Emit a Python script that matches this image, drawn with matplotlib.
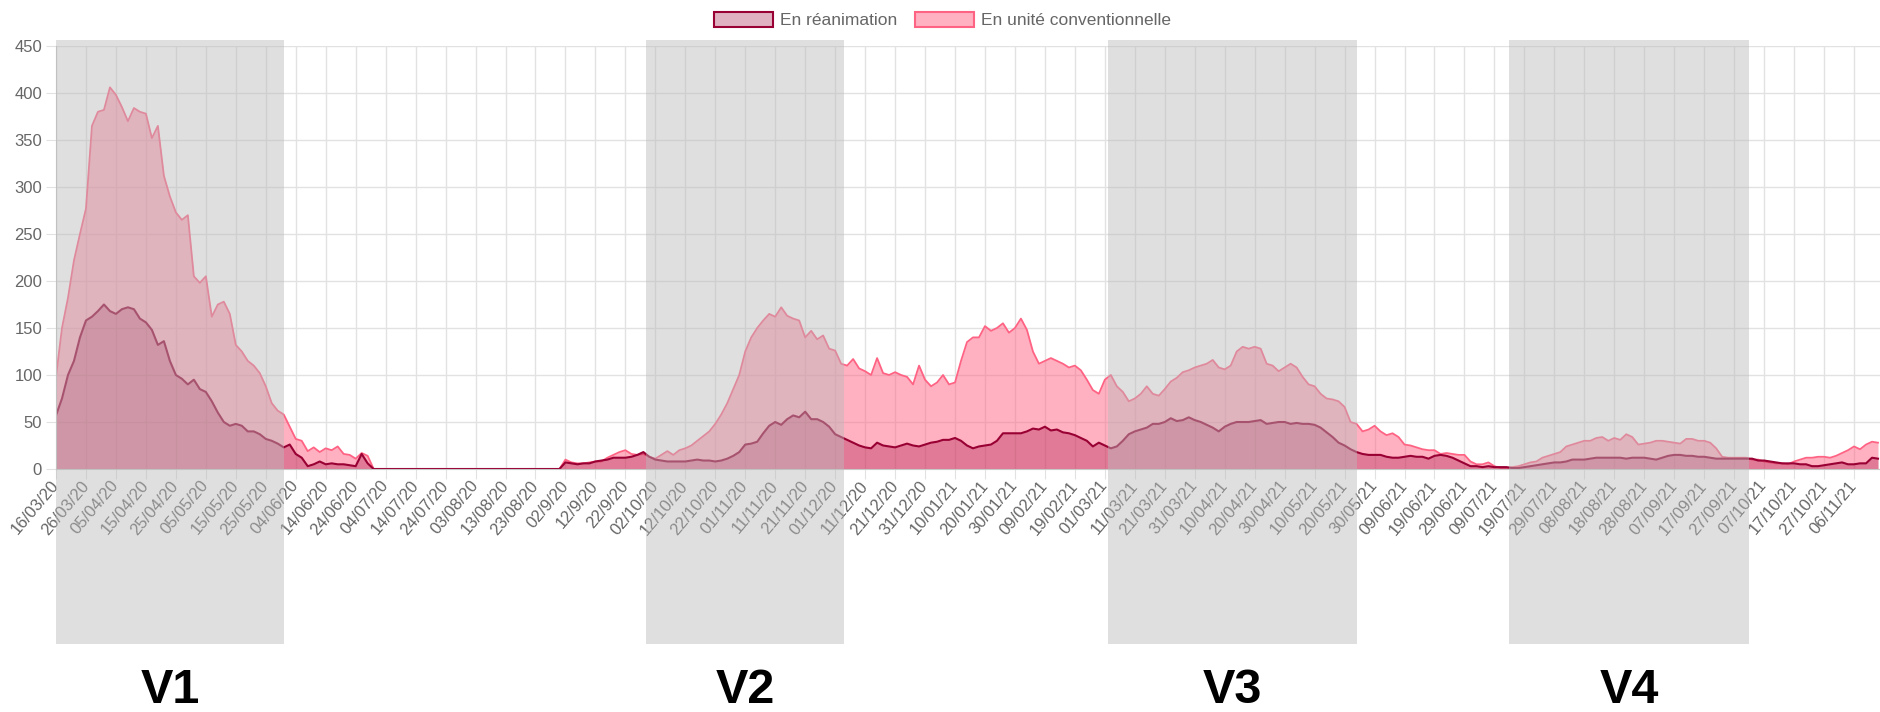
import matplotlib
matplotlib.use("Agg")
import matplotlib.pyplot as plt
import matplotlib.transforms as mtransforms
from matplotlib.patches import Patch, Rectangle
import pandas as pd

plt.rcParams['font.family'] = ['Liberation Sans', 'DejaVu Sans']

# values every 2 days starting 16/03/2020
start = "2020-03-16"
conv = [
    98, 150, 182, 222, 250, 277, 365, 380, 382, 406,   # day 0
    398, 385, 370, 384, 380, 378, 352, 365, 312, 290,  # day 20
    273, 265, 270, 205, 198, 205, 162, 175, 178, 165,  # day 40
    132, 125, 115, 110, 102, 88, 70, 62, 58, 45,       # day 60
    32, 30, 19, 23, 18, 22, 20, 24, 16, 15,            # day 80
    11, 17, 14, 0, 0, 0, 0, 0, 0, 0,                   # day 100
    0, 0, 0, 0, 0, 0, 0, 0, 0, 0,                      # day 120
    0, 0, 0, 0, 0, 0, 0, 0, 0, 0,                      # day 140
    0, 0, 0, 0, 0, 10, 7, 6, 6, 7,                     # day 160
    8, 8, 12, 15, 18, 20, 16, 15, 16, 13,              # day 180
    11, 15, 19, 15, 20, 22, 25, 30, 35, 40,            # day 200
    48, 58, 70, 85, 100, 125, 140, 150, 158, 165,      # day 220
    162, 172, 163, 160, 158, 140, 147, 138, 142, 128,  # day 240
    126, 112, 110, 117, 107, 104, 100, 118, 102, 100,  # day 260
    103, 100, 98, 90, 110, 95, 88, 92, 100, 90,        # day 280
    92, 115, 135, 140, 140, 152, 147, 150, 155, 145,   # day 300
    150, 160, 148, 125, 112, 115, 118, 115, 112, 108,  # day 320
    110, 105, 95, 84, 80, 95, 100, 88, 82, 72,         # day 340
    75, 80, 88, 80, 78, 85, 93, 97, 103, 105,          # day 360
    108, 110, 112, 116, 108, 106, 110, 125, 130, 128,  # day 380
    130, 128, 112, 110, 104, 108, 112, 108, 98, 90,    # day 400
    88, 80, 75, 74, 72, 66, 50, 48, 40, 42,            # day 420
    46, 40, 36, 38, 34, 26, 25, 23, 21, 20,            # day 440
    20, 16, 17, 16, 15, 15, 8, 5, 5, 7,                # day 460
    3, 1, 1, 2, 3, 5, 7, 8, 12, 14,                    # day 480
    16, 18, 24, 26, 28, 30, 30, 33, 34, 30,            # day 500
    33, 31, 37, 34, 26, 27, 28, 30, 30, 29,            # day 520
    28, 27, 32, 32, 30, 30, 28, 22, 13, 12,            # day 540
    12, 12, 12, 10, 10, 8, 7, 6, 6, 5,                 # day 560
    8, 10, 12, 12, 13, 13, 12, 14, 17, 20,             # day 580
    24, 21, 26, 29, 28,                                # day 600
]
rea = [
    57, 75, 100, 115, 140, 158, 162, 168, 175, 168,    # day 0
    165, 170, 172, 170, 160, 156, 148, 132, 136, 115,  # day 20
    100, 96, 90, 95, 85, 82, 72, 60, 50, 46,           # day 40
    48, 46, 40, 40, 37, 32, 30, 27, 23, 26,            # day 60
    16, 12, 3, 5, 8, 5, 6, 5, 5, 4,                    # day 80
    3, 16, 6, 0, 0, 0, 0, 0, 0, 0,                     # day 100
    0, 0, 0, 0, 0, 0, 0, 0, 0, 0,                      # day 120
    0, 0, 0, 0, 0, 0, 0, 0, 0, 0,                      # day 140
    0, 0, 0, 0, 0, 7, 6, 5, 6, 6,                      # day 160
    8, 9, 10, 12, 12, 12, 13, 15, 18, 13,              # day 180
    10, 9, 8, 8, 8, 8, 9, 10, 9, 9,                    # day 200
    8, 9, 11, 14, 18, 26, 27, 29, 38, 46,              # day 220
    50, 47, 53, 57, 55, 61, 53, 53, 50, 45,            # day 240
    37, 34, 31, 28, 25, 23, 22, 28, 25, 24,            # day 260
    23, 25, 27, 25, 24, 26, 28, 29, 31, 31,            # day 280
    33, 30, 25, 22, 24, 25, 26, 30, 38, 38,            # day 300
    38, 38, 40, 43, 42, 45, 41, 42, 39, 38,            # day 320
    36, 33, 30, 24, 28, 25, 22, 24, 30, 37,            # day 340
    40, 42, 44, 48, 48, 50, 54, 51, 52, 55,            # day 360
    52, 50, 47, 44, 40, 45, 48, 50, 50, 50,            # day 380
    51, 52, 48, 49, 50, 50, 48, 49, 48, 48,            # day 400
    47, 44, 39, 34, 28, 25, 21, 18, 16, 15,            # day 420
    15, 15, 13, 12, 12, 13, 14, 13, 13, 11,            # day 440
    14, 15, 14, 12, 9, 6, 3, 3, 2, 3,                  # day 460
    2, 2, 2, 1, 1, 2, 3, 4, 5, 6,                      # day 480
    7, 7, 8, 10, 10, 10, 11, 12, 12, 12,               # day 500
    12, 12, 11, 12, 12, 12, 11, 10, 12, 14,            # day 520
    15, 15, 14, 14, 13, 13, 12, 11, 11, 11,            # day 540
    11, 11, 11, 11, 9, 9, 8, 7, 6, 6,                  # day 560
    6, 5, 5, 3, 3, 4, 5, 6, 7, 5,                      # day 580
    5, 6, 6, 12, 11,                                   # day 600
]

tick_labels = [
    "16/03/20", "26/03/20", "05/04/20", "15/04/20", "25/04/20", "05/05/20",
    "15/05/20", "25/05/20", "04/06/20", "14/06/20", "24/06/20", "04/07/20",
    "14/07/20", "24/07/20", "03/08/20", "13/08/20", "23/08/20", "02/9/20",
    "12/9/20", "22/9/20", "02/10/20", "12/10/20", "22/10/20", "01/11/20",
    "11/11/20", "21/11/20", "01/12/20", "11/12/20", "21/12/20", "31/12/20",
    "10/01/21", "20/01/21", "30/01/21", "09/02/21", "19/02/21", "01/03/21",
    "11/03/21", "21/03/21", "31/03/21", "10/04/21", "20/04/21", "30/04/21",
    "10/05/21", "20/05/21", "30/05/21", "09/06/21", "19/06/21", "29/06/21",
    "09/07/21", "19/07/21", "29/07/21", "08/08/21", "18/08/21", "28/08/21",
    "07/09/21", "17/09/21", "27/09/21", "07/10/21", "17/10/21", "27/10/21",
    "06/11/21",
]

waves = ["V1", "V2", "V3", "V4"]
wave_start = ["2020-03-16", "2020-09-29", "2021-03-02", "2021-07-14"]
wave_end = ["2020-05-31", "2020-12-04", "2021-05-24", "2021-10-02"]

dates = pd.date_range(start, periods=len(conv), freq="2D")
tick_pos = pd.to_datetime(tick_labels, format="%d/%m/%y")

rea_line = (153/255, 0, 51/255)
rea_fill = (153/255, 0, 51/255, 0.3)
conv_line = (1, 99/255, 132/255)
conv_fill = (1, 99/255, 132/255, 0.5)
grid_c = "#e2e2e2"

fig = plt.figure(figsize=(18.81, 7.12), dpi=100)
ax = fig.add_axes([56/1881, 243/712, 1 - 56/1881, 423/712])

ax.fill_between(dates, 0, conv, color=conv_fill, lw=0, zorder=2)
ax.plot(dates, conv, color=conv_line, lw=1.3, zorder=2.1)
ax.fill_between(dates, 0, rea, color=rea_fill, lw=0, zorder=2.2)
ax.plot(dates, rea, color=rea_line, lw=1.5, zorder=2.3)

ax.set_xlim(pd.Timestamp(start), pd.Timestamp("2021-11-15"))
ax.set_ylim(0, 450)
ax.set_yticks(range(0, 451, 50))
ax.set_xticks(tick_pos)
ax.set_xticklabels(tick_labels)
ax.grid(True, color=grid_c, lw=1, alpha=1)
ax.tick_params(length=7, color=grid_c, labelcolor="#666666", labelsize=12, pad=3)
plt.setp(ax.get_xticklabels(), rotation=50, ha="right", va="center",
         rotation_mode="anchor")
for s in ["top", "right"]:
    ax.spines[s].set_visible(False)
for s in ["left", "bottom"]:
    ax.spines[s].set_color("#c8c8c8")

trans = mtransforms.blended_transform_factory(ax.transData, fig.transFigure)
for name, s, e in zip(waves, wave_start, wave_end):
    x0 = matplotlib.dates.date2num(pd.Timestamp(s))
    x1 = matplotlib.dates.date2num(pd.Timestamp(e))
    ax.add_patch(Rectangle((x0, 0.0955), x1 - x0, 0.944 - 0.0955, transform=trans,
                           facecolor=(186/255, 186/255, 186/255, 0.45), lw=0,
                           zorder=5, clip_on=False))
    ax.text((x0 + x1) / 2, 0.012, name, transform=trans, ha="center",
            va="baseline", fontsize=35, fontweight="bold", color="black",
            clip_on=False)

handles = [Patch(facecolor=rea_fill, edgecolor=rea_line, lw=1.5),
           Patch(facecolor=conv_fill, edgecolor=conv_line, lw=1.5)]
fig.legend(handles, ["En réanimation", "En unité conventionnelle"],
           loc="center", bbox_to_anchor=(0.501, 0.972), ncol=2, frameon=False,
           fontsize=12.5, labelcolor="#666666", handlelength=3.4,
           handleheight=1.0, handletextpad=0.4, columnspacing=1.0)

fig.savefig("out.png", dpi=100)
